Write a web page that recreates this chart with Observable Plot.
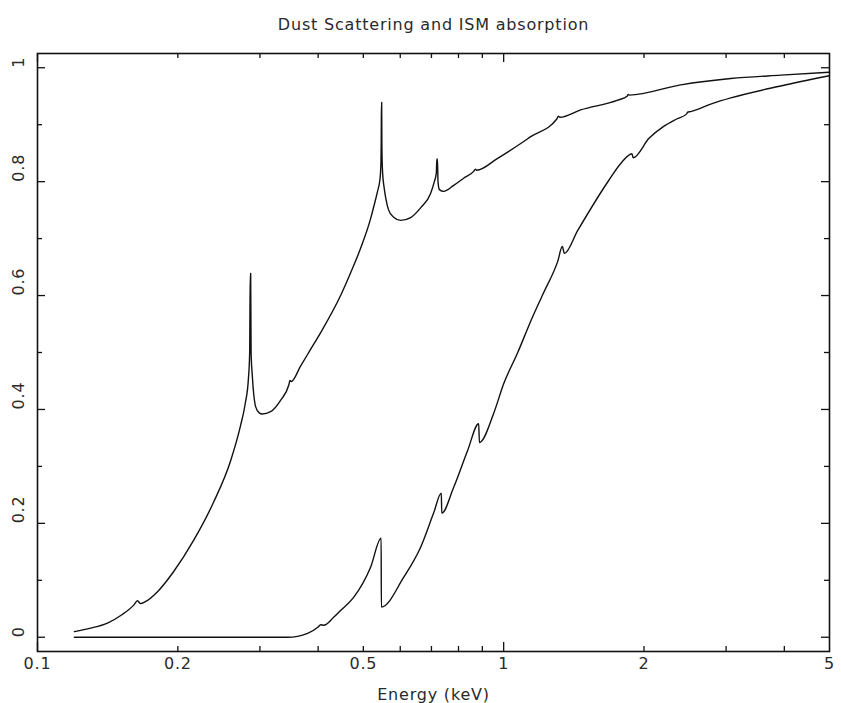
<!DOCTYPE html>
<html><head><meta charset="utf-8">
<script src="https://cdn.jsdelivr.net/npm/d3@7"></script>
<script src="https://cdn.jsdelivr.net/npm/@observablehq/plot@0.6"></script>
<style>html,body{margin:0;padding:0;background:#fff;overflow:hidden;}</style>
</head><body><div id="chart"></div>
<script>
const title = "Dust Scattering and ISM absorption";
const xLabel = "Energy (keV)";

// Upper curve: dust scattering transmission
const upperE = [0.120,0.130,0.1413,0.152,0.1607,0.1639,0.1664,0.1700,0.1809,0.1958,0.2162,0.2386,0.2596,0.2727,0.2790,0.2835,0.2852,0.2860,0.2866,0.2872,0.2889,0.2937,0.2990,0.3035,0.3162,0.3322,0.3460,0.3480,0.3500,0.3667,0.385,0.405,0.4469,0.4696,0.4933,0.5183,0.526,0.536,0.543,0.5455,0.5462,0.5468,0.5474,0.5480,0.5500,0.5540,0.5583,0.5666,0.5800,0.6012,0.6316,0.6635,0.6970,0.7100,0.7170,0.7190,0.7210,0.7230,0.7280,0.7434,0.7800,0.8207,0.8623,0.8700,0.8750,0.9708,1.088,1.143,1.300,1.310,1.320,1.463,1.757,1.840,1.850,1.860,2.398,3.07,3.93,5.0];
const upperT = [0.010,0.016,0.025,0.040,0.056,0.064,0.059,0.062,0.080,0.115,0.170,0.237,0.310,0.372,0.410,0.455,0.500,0.639,0.639,0.500,0.460,0.405,0.394,0.392,0.396,0.416,0.443,0.451,0.449,0.476,0.505,0.535,0.600,0.640,0.683,0.735,0.755,0.782,0.805,0.835,0.870,0.939,0.939,0.860,0.815,0.790,0.772,0.750,0.738,0.732,0.737,0.754,0.779,0.800,0.815,0.840,0.840,0.800,0.786,0.783,0.793,0.806,0.818,0.822,0.820,0.841,0.867,0.879,0.910,0.915,0.913,0.926,0.943,0.950,0.953,0.952,0.970,0.981,0.987,0.992];

// Lower curve: ISM absorption transmission
const lowerE = [0.120,0.344,0.3796,0.400,0.405,0.411,0.4318,0.4469,0.4766,0.5183,0.5460,0.5465,0.610,0.6635,0.7075,0.7350,0.7365,0.7809,0.837,0.884,0.887,0.9517,1.000,1.072,1.143,1.218,1.306,1.336,1.350,1.441,1.680,1.783,1.885,1.895,2.050,2.204,2.350,2.470,2.480,2.519,2.800,3.07,3.93,5.0];
const lowerT = [0.000,0.000,0.007,0.018,0.022,0.021,0.035,0.047,0.070,0.123,0.174,0.053,0.105,0.158,0.218,0.253,0.218,0.263,0.328,0.375,0.342,0.393,0.445,0.500,0.555,0.605,0.660,0.686,0.674,0.714,0.802,0.832,0.849,0.842,0.876,0.897,0.910,0.919,0.922,0.923,0.937,0.947,0.968,0.986];

const xTickLabels = [0.1, 0.2, 0.5, 1, 2, 5];
const xMajorTicks = [0.1, 1];
const xMinorTicks = [0.2, 0.3, 0.4, 0.5, 0.6, 0.7, 0.8, 0.9, 2, 3, 4];
const yTickLabels = [0, 0.2, 0.4, 0.6, 0.8, 1];
const yMinorTicks = [0.1, 0.3, 0.5, 0.7, 0.9];

const W = 841, H = 703, mL = 37, mR = 12, mT = 53, mB = 52;
const fw = W - mL - mR, fh = H - mT - mB;
const upper = upperE.map((e, i) => ({e, t: upperT[i]}));
const lower = lowerE.map((e, i) => ({e, t: lowerT[i]}));
const ink = "#111";
const txt = "#2a2a2a";

const chart = Plot.plot({
  width: W, height: H,
  marginLeft: mL, marginRight: mR, marginTop: mT, marginBottom: mB,
  style: {fontFamily: "DejaVu Sans", fontSize: "16px", color: ink, background: "#fff", letterSpacing: "0.8px"},
  x: {type: "log", domain: [0.1, 5], axis: null},
  y: {domain: [-0.025, 1.025], axis: null},
  marks: [
    Plot.frame({stroke: ink, strokeWidth: 1.6}),
    Plot.tickX(xMajorTicks, {x: d => d, insetTop: fh - 9, stroke: ink, strokeWidth: 1.3}),
    Plot.tickX(xMajorTicks, {x: d => d, insetBottom: fh - 9, stroke: ink, strokeWidth: 1.3}),
    Plot.tickX(xMinorTicks, {x: d => d, insetTop: fh - 5, stroke: ink, strokeWidth: 1.3}),
    Plot.tickX(xMinorTicks, {x: d => d, insetBottom: fh - 5, stroke: ink, strokeWidth: 1.3}),
    Plot.tickY(yTickLabels, {y: d => d, insetRight: fw - 8, stroke: ink, strokeWidth: 1.3}),
    Plot.tickY(yTickLabels, {y: d => d, insetLeft: fw - 8, stroke: ink, strokeWidth: 1.3}),
    Plot.tickY(yMinorTicks, {y: d => d, insetRight: fw - 5, stroke: ink, strokeWidth: 1.3}),
    Plot.tickY(yMinorTicks, {y: d => d, insetLeft: fw - 5, stroke: ink, strokeWidth: 1.3}),
    Plot.line(upper, {x: "e", y: "t", curve: "monotone-x", stroke: ink, strokeWidth: 1.4}),
    Plot.line(lower, {x: "e", y: "t", curve: "monotone-x", stroke: ink, strokeWidth: 1.4}),
    Plot.text(xTickLabels, {x: d => d, text: d => String(d), frameAnchor: "bottom", dy: 17, fill: txt}),
    Plot.text(yTickLabels, {y: d => d, text: d => String(d), frameAnchor: "left", dx: -19, rotate: -90, fill: txt}),
    Plot.text([xLabel], {text: d => d, frameAnchor: "bottom", dy: 48, fill: txt}),
    Plot.text([title], {text: d => d, frameAnchor: "top", dy: -35, fill: txt})
  ]
});
document.getElementById("chart").append(chart);
</script>
</body></html>
